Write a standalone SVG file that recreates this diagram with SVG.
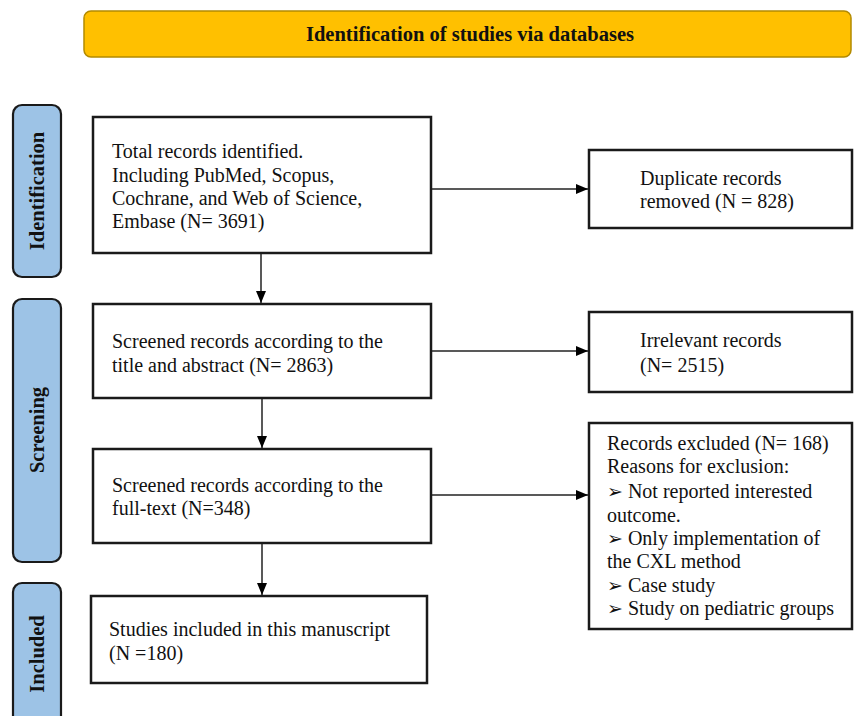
<svg xmlns="http://www.w3.org/2000/svg" width="854" height="716" viewBox="0 0 854 716">
  <defs>
    <marker id="arrow" viewBox="0 0 12 10" refX="12" refY="5" markerWidth="12" markerHeight="10" markerUnits="userSpaceOnUse" orient="auto">
      <path d="M0,0 L12,5 L0,10 Z" fill="#000"/>
    </marker>
    <style>
      .box { fill: #fff; stroke: #1a1a1a; stroke-width: 2.5; }
      .phase { fill: #9dc3e6; stroke: #1a1a1a; stroke-width: 2.2; }
      .head { fill: #ffc000; stroke: #b38a00; stroke-width: 1.5; }
      .t { font-family: "Liberation Serif", "Times New Roman", serif; font-size: 20px; fill: #111; }
      .b { font-family: "Liberation Serif", "Times New Roman", serif; font-size: 20.5px; font-weight: bold; fill: #111; }
      .sym { font-family: "DejaVu Sans", sans-serif; font-size: 19px; }
      .conn { stroke: #222; stroke-width: 1.5; fill: none; marker-end: url(#arrow); }
    </style>
  </defs>
  <rect width="854" height="716" fill="#fff"/>

  <!-- header banner -->
  <g id="header">
    <rect class="head" x="84" y="11" width="767" height="46" rx="7"/>
    <text class="b" x="470" y="41" text-anchor="middle">Identification of studies via databases</text>
  </g>

  <!-- phase labels -->
  <g id="phase-identification">
    <rect class="phase" x="13" y="105" width="48" height="172" rx="9"/>
    <text class="b" transform="translate(44,191) rotate(-90)" text-anchor="middle">Identification</text>
  </g>
  <g id="phase-screening">
    <rect class="phase" x="13" y="299" width="48" height="263" rx="9"/>
    <text class="b" transform="translate(44,430) rotate(-90)" text-anchor="middle">Screening</text>
  </g>
  <g id="phase-included">
    <rect class="phase" x="13" y="583" width="48" height="145" rx="9"/>
    <text class="b" transform="translate(44,654) rotate(-90)" text-anchor="middle">Included</text>
  </g>

  <!-- main flow boxes -->
  <g id="identified">
    <rect class="box" x="93" y="117" width="338" height="136"/>
    <text class="t" x="112" y="158">Total records identified.</text>
    <text class="t" x="112" y="182">Including PubMed, Scopus,</text>
    <text class="t" x="112" y="205">Cochrane, and Web of Science,</text>
    <text class="t" x="112" y="228">Embase (N= 3691)</text>
  </g>
  <g id="screened-title">
    <rect class="box" x="93" y="304" width="338" height="94"/>
    <text class="t" x="112" y="348">Screened records according to the</text>
    <text class="t" x="112" y="372">title and abstract (N= 2863)</text>
  </g>
  <g id="screened-fulltext">
    <rect class="box" x="93" y="449" width="338" height="94"/>
    <text class="t" x="112" y="492">Screened records according to the</text>
    <text class="t" x="112" y="515">full-text (N=348)</text>
  </g>
  <g id="included">
    <rect class="box" x="91" y="596" width="336" height="87"/>
    <text class="t" x="109" y="636">Studies included in this manuscript</text>
    <text class="t" x="109" y="660">(N =180)</text>
  </g>

  <!-- side boxes -->
  <g id="duplicates">
    <rect class="box" x="589" y="150" width="263" height="78"/>
    <text class="t" x="640" y="185">Duplicate records</text>
    <text class="t" x="640" y="208">removed (N = 828)</text>
  </g>
  <g id="irrelevant">
    <rect class="box" x="589" y="312" width="263" height="80"/>
    <text class="t" x="640" y="347">Irrelevant records</text>
    <text class="t" x="640" y="372">(N= 2515)</text>
  </g>
  <g id="excluded">
    <rect class="box" x="589" y="423" width="263" height="206"/>
    <text class="t" x="607" y="450">Records excluded (N= 168)</text>
    <text class="t" x="607" y="473">Reasons for exclusion:</text>
    <text class="t" x="607" y="498"><tspan class="sym">➢</tspan> Not reported interested</text>
    <text class="t" x="607" y="522">outcome.</text>
    <text class="t" x="607" y="545"><tspan class="sym">➢</tspan> Only implementation of</text>
    <text class="t" x="607" y="568">the CXL method</text>
    <text class="t" x="607" y="592"><tspan class="sym">➢</tspan> Case study</text>
    <text class="t" x="607" y="615"><tspan class="sym">➢</tspan> Study on pediatric groups</text>
  </g>

  <!-- connectors -->
  <g id="connectors">
    <line class="conn" x1="261" y1="254" x2="261" y2="303"/>
    <line class="conn" x1="262" y1="399" x2="262" y2="448"/>
    <line class="conn" x1="262" y1="544" x2="262" y2="595"/>
    <line class="conn" x1="432" y1="189" x2="588" y2="189"/>
    <line class="conn" x1="432" y1="351" x2="588" y2="351"/>
    <line class="conn" x1="432" y1="495" x2="588" y2="495"/>
  </g>
</svg>
